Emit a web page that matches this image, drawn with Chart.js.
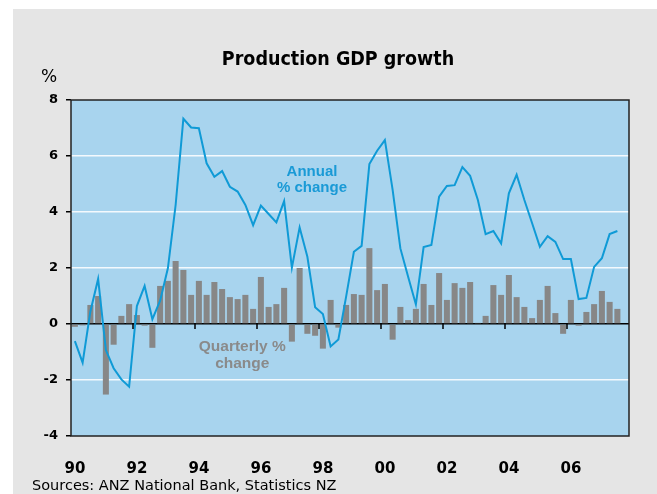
<!DOCTYPE html>
<html>
<head>
<meta charset="utf-8">
<script src="https://cdn.jsdelivr.net/npm/chart.js@4/dist/chart.umd.min.js"></script>
<style>
  body { margin: 0; background: #fff; }
  #panel { position: absolute; left: 13px; top: 9px; width: 644px; height: 485px; background: #e5e5e5; }
  #chart { position: absolute; left: 0; top: 0; }
  .txt { position: absolute; white-space: nowrap; color: #000; }
  #title { left: 0; width: 676px; top: 49px; text-align: center; font: bold 19.5px/20px "DejaVu Sans Condensed", "DejaVu Sans"; }
  #unit { left: 41px; top: 66px; font: 17px/20px "DejaVu Sans"; }
  #source { left: 32px; top: 477px; font: 14.5px/16px "DejaVu Sans"; }
</style>
</head>
<body>
<div id="panel"></div>
<canvas id="chart" width="657" height="494"></canvas>
<div class="txt" id="title">Production GDP growth</div>
<div class="txt" id="unit">%</div>
<div class="txt" id="source">Sources: ANZ National Bank, Statistics NZ</div>
<script>
// quarters 1990 Q1 .. 2007 Q4
const years = [1990, 1991, 1992, 1993, 1994, 1995, 1996, 1997, 1998, 1999,
  2000, 2001, 2002, 2003, 2004, 2005, 2006, 2007];
const quarterNames = ["Q1", "Q2", "Q3", "Q4"];
const tickYears = ["90", "92", "94", "96", "98", "00", "02", "04", "06"];

// quarterly % change (bars)
const quarterly = [
  -0.1, -0.05, 0.68, 1.0, -2.52, -0.74, 0.29, 0.71,
  0.32, -0.06, -0.85, 1.36, 1.54, 2.25, 1.93, 1.04,
  1.54, 1.04, 1.5, 1.25, 0.96, 0.89, 1.04, 0.54,
  1.68, 0.61, 0.71, 1.29, -0.63, 2.0, -0.35, -0.42,
  -0.88, 0.86, -0.13, 0.68, 1.07, 1.04, 2.71, 1.21,
  1.43, -0.56, 0.61, 0.14, 0.54, 1.43, 0.68, 1.82,
  0.86, 1.46, 1.29, 1.5, 0.04, 0.29, 1.39, 1.04,
  1.75, 0.96, 0.61, 0.21, 0.86, 1.36, 0.39, -0.35,
  0.86, -0.06, 0.43, 0.71, 1.18, 0.79, 0.54, null
];

// annual % change (line)
const annual = [
  -0.61, -1.38, 0.45, 1.61, -0.93, -1.58, -1.98, -2.24,
  0.64, 1.36, 0.17, 0.83, 1.99, 4.25, 7.33, 7.02,
  6.99, 5.74, 5.26, 5.46, 4.9, 4.73, 4.25, 3.53,
  4.23, 3.93, 3.63, 4.39, 2.01, 3.45, 2.4, 0.6,
  0.36, -0.8, -0.55, 0.98, 2.58, 2.79, 5.71, 6.19,
  6.57, 4.79, 2.7, 1.69, 0.7, 2.75, 2.82, 4.55,
  4.93, 4.96, 5.6, 5.29, 4.43, 3.21, 3.32, 2.88,
  4.67, 5.33, 4.43, 3.6, 2.76, 3.14, 2.93, 2.32,
  2.32, 0.89, 0.93, 2.04, 2.35, 3.21, 3.32, null
];

let categories = [];
years.forEach(y => quarterNames.forEach(q => categories.push(y + " " + q)));

// labels on the chart, anchored to category index / value
let notes = [
  { text: "Annual", i: 30.6, v: 5.43, color: "#1a9ad6", size: 15 },
  { text: "% change", i: 30.6, v: 4.85, color: "#1a9ad6", size: 15 },
  { text: "Quarterly %", i: 21.6, v: -0.82, color: "#8a8a8a", size: 15.5 },
  { text: "change", i: 21.6, v: -1.43, color: "#8a8a8a", size: 15.5 }
];

const plotFrame = {
  id: "plotFrame",
  beforeDraw(chart) {
    let a = chart.chartArea;
    let ctx = chart.ctx;
    ctx.save();
    ctx.fillStyle = "#a8d4ee";
    ctx.fillRect(a.left, a.top, a.right - a.left, a.bottom - a.top);
    ctx.restore();
  },
  afterDatasetsDraw(chart) {
    let a = chart.chartArea;
    let ctx = chart.ctx;
    let x = chart.scales.x;
    let y = chart.scales.y;
    let half = (x.getPixelForValue(1) - x.getPixelForValue(0)) / 2;
    let y0 = y.getPixelForValue(0);
    ctx.save();
    // year ticks hanging from the zero line
    ctx.strokeStyle = "#000";
    ctx.lineWidth = 1.5;
    for (let i = 8; i < categories.length; i += 8) {
      let px = x.getPixelForValue(i) - half;
      ctx.beginPath();
      ctx.moveTo(px, y0);
      ctx.lineTo(px, y0 + 5);
      ctx.stroke();
    }
    notes.forEach(n => {
      ctx.font = "bold " + n.size + "px 'Liberation Sans', Arial";
      ctx.fillStyle = n.color;
      ctx.textAlign = "center";
      ctx.textBaseline = "middle";
      ctx.fillText(n.text, x.getPixelForValue(n.i), y.getPixelForValue(n.v));
    });
    ctx.strokeStyle = "#222";
    ctx.lineWidth = 1.5;
    ctx.strokeRect(a.left, a.top, a.right - a.left, a.bottom - a.top);
    ctx.restore();
  }
};

let ctx = document.getElementById("chart").getContext("2d");
let myChart = new Chart(ctx, {
  data: {
    labels: categories,
    datasets: [
      {
        type: "line",
        label: "Annual % change",
        data: annual,
        borderColor: "#0f9ad6",
        borderWidth: 2,
        pointRadius: 0,
        tension: 0,
        order: 0
      },
      {
        type: "bar",
        label: "Quarterly % change",
        data: quarterly,
        backgroundColor: "#878787",
        barPercentage: 0.78,
        categoryPercentage: 1,
        order: 1
      }
    ]
  },
  options: {
    responsive: false,
    animation: false,
    layout: { padding: { left: 0, top: 100, right: 28, bottom: 0 } },
    plugins: {
      legend: { display: false },
      title: { display: false },
      tooltip: { enabled: false }
    },
    scales: {
      x: {
        offset: true,
        grid: { display: false },
        border: { display: false },
        afterFit: (s) => { s.height = 58; },
        ticks: {
          autoSkip: false,
          maxRotation: 0,
          padding: 16,
          color: "#000",
          font: { family: "DejaVu Sans", size: 15, weight: "bold" },
          callback: (val, idx) => (idx % 8 === 0 ? tickYears[idx / 8] : "")
        }
      },
      y: {
        min: -4,
        max: 8,
        afterFit: (s) => { s.width = 71; },
        border: { display: false },
        grid: {
          color: (c) => (c.tick.value === 0 ? "#000" : (c.tick.value === 8 || c.tick.value === -4 ? "rgba(0,0,0,0)" : "#f4f9fd")),
          lineWidth: 1.5,
          tickLength: 5,
          tickColor: "#000"
        },
        ticks: {
          stepSize: 2,
          padding: 8,
          color: "#000",
          font: { family: "DejaVu Sans", size: 13, weight: "bold" }
        }
      }
    }
  },
  plugins: [plotFrame]
});
</script>
</body>
</html>
